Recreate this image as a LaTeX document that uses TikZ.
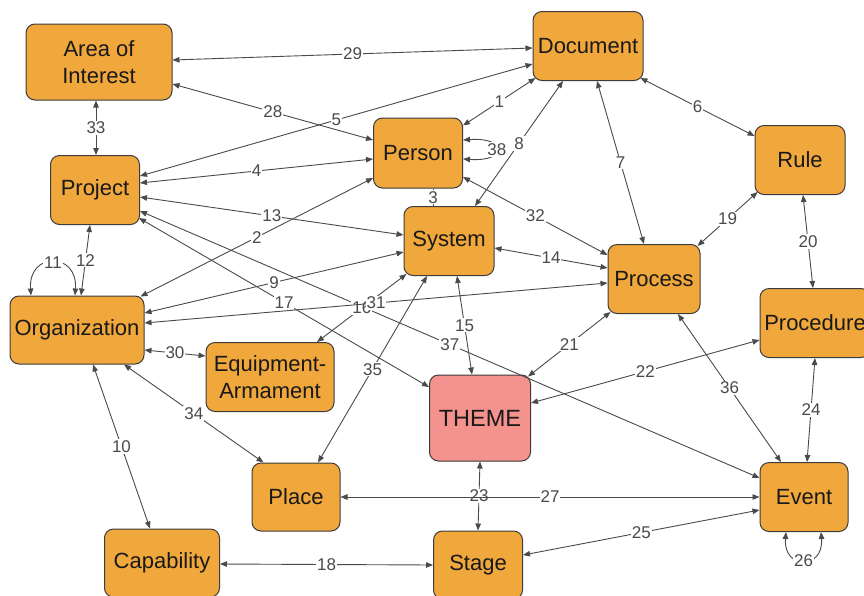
\documentclass[tikz,border=0pt]{standalone}
\usepackage{fontspec}
\setmainfont{Liberation Sans}
\usetikzlibrary{arrows.meta,calc}
\definecolor{boxfill}{HTML}{F0A73C}
\definecolor{themefill}{HTML}{F4928D}
\definecolor{edgecol}{HTML}{4A4A4A}
\definecolor{boxline}{HTML}{3C3C3C}
\begin{document}
\begin{tikzpicture}[x=1pt,y=-1pt,
  box/.style={draw=boxline, fill=boxfill, line width=1pt, rounded corners=9pt, inner sep=0pt, align=center, font=\fontsize{22}{27}\selectfont, text=black!90},
  lnk/.style={draw=edgecol, line width=0.9pt, arrows={Triangle[length=7pt,width=5.5pt]-Triangle[length=7pt,width=5.5pt]}},
  plainlnk/.style={draw=edgecol, line width=0.9pt},
  lbl/.style={fill=white, inner sep=1pt, text=edgecol, font=\fontsize{17}{17}\selectfont}]
\useasboundingbox[fill=white] (0,0) rectangle (864,595);

% nodes
\node[box, minimum width=146pt, minimum height=76pt] (aoi) at (99,62) {Area of\\Interest};
\node[box, minimum width=110pt, minimum height=69pt] (doc) at (588,46) {Document};
\node[box, minimum width=89pt, minimum height=70pt] (person) at (418,153) {Person};
\node[box, minimum width=89pt, minimum height=69pt] (proj) at (95,190) {Project};
\node[box, minimum width=90pt, minimum height=69pt] (rule) at (800,160) {Rule};
\node[box, minimum width=90pt, minimum height=69pt] (sys) at (449,241) {System};
\node[box, minimum width=92pt, minimum height=69pt] (proc) at (654,279) {Process};
\node[box, minimum width=134pt, minimum height=68pt] (org) at (77,330) {Organization};
\node[box, minimum width=110pt, minimum height=69pt] (procd) at (815,323) {Procedure};
\node[box, minimum width=128pt, minimum height=69pt] (equip) at (270,377) {Equipment-\\Armament};
\node[box, fill=themefill, minimum width=101pt, minimum height=86pt, font=\fontsize{23.5}{26}\selectfont] (theme) at (480,418) {THEME};
\node[box, minimum width=88pt, minimum height=68pt] (place) at (296,497) {Place};
\node[box, minimum width=88pt, minimum height=69pt] (event) at (804,497) {Event};
\node[box, minimum width=115pt, minimum height=68pt] (cap) at (162,563) {Capability};
\node[box, minimum width=89pt, minimum height=68pt] (stage) at (478,565) {Stage};

% connectors
\draw[lnk] ($(aoi.east)+(0,-2)$) -- node[lbl]{29} ($(doc.west)+(0,2)$);
\draw[lnk] ($(aoi.east)+(0,22)$) -- node[lbl]{28} ($(person.west)+(0,-13)$);
\draw[lnk] ($(aoi.south)+(-3,0)$) -- node[lbl]{33} ($(proj.north)+(1,0)$);
\draw[lnk] ($(proj.east)+(0,-14)$) -- node[lbl]{5} ($(doc.west)+(0,18)$);
\draw[lnk] ($(proj.east)+(0,-7)$) -- node[lbl]{4} ($(person.west)+(0,6)$);
\draw[lnk] ($(proj.east)+(0,7)$) -- node[lbl]{13} ($(sys.west)+(0,-6)$);
\draw[lnk] ($(proj.east)+(0,21)$) -- node[lbl]{37} ($(event.west)+(0,-19)$);
\draw[lnk] ($(proj.east)+(-1,28)$) -- node[lbl]{17} ($(theme.west)+(0,-31)$);
\draw[lnk] ($(proj.south)+(-5,0)$) -- node[lbl]{12} ($(org.north)+(4,0)$);
\draw[lnk] ($(person.north east)+(0,8)$) -- node[lbl]{1} ($(doc.south west)+(3,-3)$);
\draw[lnk] ($(org.north east)+(-4,1)$) -- node[lbl]{2} ($(person.west)+(0,25)$);
\draw[lnk] ($(person.east)+(0,24)$) -- node[lbl]{32} ($(proc.west)+(0,-24)$);
\draw[plainlnk] ($(person.south)+(15,0)$) -- node[lbl]{3} ($(sys.north)+(-16,0)$);
\draw[lnk] ($(doc.south)+(-25,0)$) -- node[lbl]{8} ($(sys.north)+(26,0)$);
\draw[lnk] ($(doc.south)+(9,0)$) -- node[lbl]{7} ($(proc.north)+(-10,0)$);
\draw[lnk] ($(doc.south east)+(-3,-3)$) -- node[lbl]{6} ($(rule.west)+(0,-24)$);
\draw[lnk] ($(rule.south west)+(3,-3)$) -- node[lbl]{19} ($(proc.north east)+(-3,2)$);
\draw[lnk] ($(rule.south)+(3,0)$) -- node[lbl]{20} ($(procd.north)+(-2,0)$);
\draw[lnk] ($(sys.east)+(0,7)$) -- node[lbl]{14} ($(proc.west)+(0,-11)$);
\draw[lnk] ($(org.east)+(0,-17)$) -- node[lbl]{9} ($(sys.west)+(0,11)$);
\draw[lnk] ($(sys.south)+(8,0)$) -- node[lbl]{15} ($(theme.north)+(-8,0)$);
\draw[lnk] ($(equip.north)+(47,0)$) -- node[lbl]{16} ($(sys.south west)+(3,-2)$);
\draw[lnk] ($(org.east)+(0,-7)$) -- node[lbl]{31} ($(proc.west)+(0,4)$);
\draw[lnk] ($(place.north)+(22,0)$) -- node[lbl]{35} ($(sys.south)+(-22,0)$);
\draw[lnk] ($(proc.south west)+(3,-2)$) -- node[lbl]{21} ($(theme.north east)+(-3,2)$);
\draw[lnk] ($(proc.south)+(24,0)$) -- node[lbl]{36} ($(event.north)+(-23,0)$);
\draw[lnk] ($(theme.east)+(0,-15)$) -- node[lbl]{22} ($(procd.west)+(0,17)$);
\draw[lnk] (theme.south) -- node[lbl]{23} (stage.north);
\draw[lnk] (procd.south) -- node[lbl]{24} ($(event.north)+(3,0)$);
\draw[lnk] ($(event.west)+(0,13)$) -- node[lbl]{25} ($(stage.east)+(0,-10)$);
\draw[lnk] (place.east) -- node[lbl]{27} (event.west);
\draw[lnk] ($(org.east)+(0,20)$) -- node[lbl]{30} ($(equip.west)+(0,-21)$);
\draw[lnk] ($(org.south)+(47,0)$) -- node[lbl]{34} ($(place.north west)+(12,0)$);
\draw[lnk] ($(org.south)+(16,0)$) -- node[lbl]{10} ($(cap.north)+(-12,0)$);
\draw[lnk] ($(cap.east)+(0,1)$) -- node[lbl]{18} (stage.west);

% self loops
\draw[lnk] ($(person.east)+(0,-13)$) .. controls +(45,-3) and +(45,3) .. node[lbl]{38} ($(person.east)+(0,6)$);
\draw[lnk] ($(org.north)+(-46,0)$) .. controls +(-3,-44) and +(3,-44) .. node[lbl]{11} ($(org.north)+(-2,0)$);
\draw[lnk] ($(event.south)+(-18,0)$) .. controls +(-3,38) and +(3,38) .. node[lbl]{26} ($(event.south)+(17,0)$);
\end{tikzpicture}
\end{document}
